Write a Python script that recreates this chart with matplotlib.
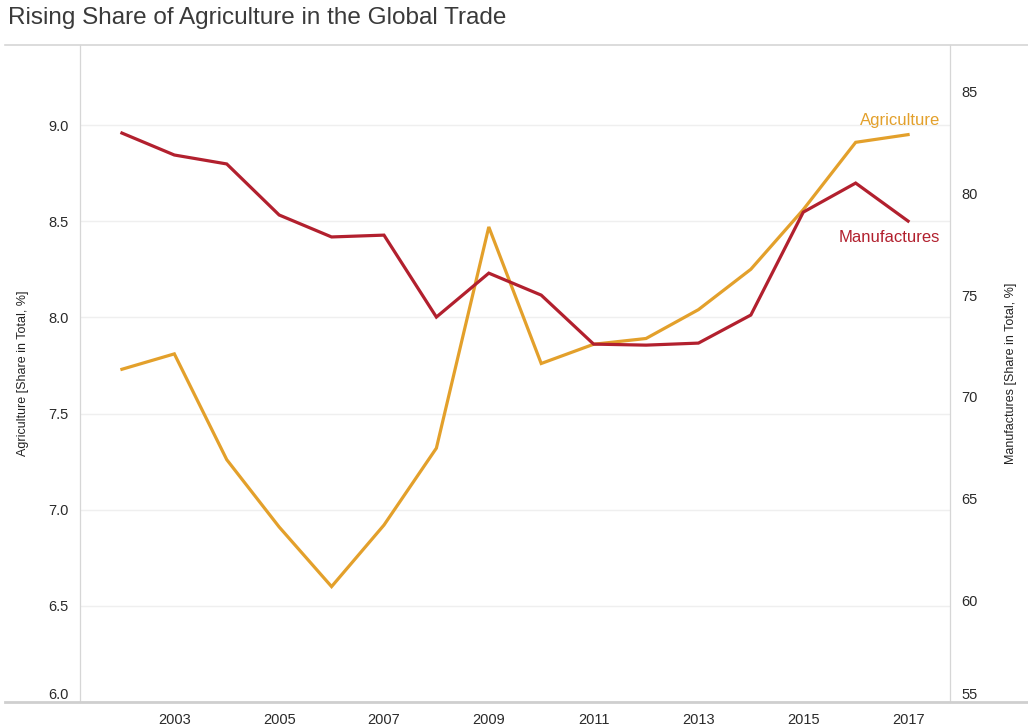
import matplotlib
matplotlib.use("Agg")
import matplotlib.pyplot as plt
from matplotlib.lines import Line2D

# données
annees = list(range(2002, 2018))
agriculture = [7.73, 7.81, 7.26, 6.91, 6.60, 6.92, 7.32, 8.47,
               7.76, 7.86, 7.89, 8.04, 8.25, 8.56, 8.91, 8.95]
manufactures = [82.98, 81.90, 81.46, 78.95, 77.87, 77.96, 73.93, 76.09,
                75.01, 72.60, 72.55, 72.65, 74.03, 79.09, 80.52, 78.65]
ticks_x = [2003, 2005, 2007, 2009, 2011, 2013, 2015, 2017]
ticks_g = [6.0, 6.5, 7.0, 7.5, 8.0, 8.5, 9.0]
ticks_d = [55, 60, 65, 70, 75, 80, 85]

ORANGE, ROUGE = "#e3a02b", "#b2202e"
ENCRE, GRILLE, CADRE = "#2a2a2a", "#efefef", "#d6d6d6"

plt.rcParams.update({
    "font.family": "sans-serif",
    "font.sans-serif": ["Liberation Sans", "DejaVu Sans"],
})

fig = plt.figure(figsize=(10.28, 7.28), dpi=100)
ax = fig.add_axes([80 / 1028, 1 - 702 / 728, 870 / 1028, 657 / 728])
ax2 = ax.twinx()

ax.plot(annees, agriculture, color=ORANGE, lw=2.3, solid_joinstyle="miter")
ax2.plot(annees, manufactures, color=ROUGE, lw=2.3, solid_joinstyle="miter")

ax.set_xlim(2001.2, 2017.8)
ax.set_ylim(6.0, 9.416)
ax2.set_ylim(55, 87.31)

ax.set_xticks(ticks_x)
ax.set_xticklabels([str(t) for t in ticks_x], fontsize=10.5, color=ENCRE)
ax.set_yticks(ticks_g)
ax.set_yticklabels([f"{t:.1f}" for t in ticks_g], fontsize=10.5, color=ENCRE)
ax2.set_yticks(ticks_d)
ax2.set_yticklabels([str(t) for t in ticks_d], fontsize=10.5, color=ENCRE)
ax.tick_params(length=0, pad=8)
ax2.tick_params(length=0, pad=8)
ax.get_yticklabels()[0].set_va("bottom")
ax2.get_yticklabels()[0].set_va("bottom")

ax.grid(True, axis="y", color=GRILLE, lw=1)
ax.set_axisbelow(True)
for a in (ax, ax2):
    a.spines["top"].set_visible(False)
    a.spines["bottom"].set_visible(False)
    a.spines["left"].set_color(CADRE)
    a.spines["right"].set_color(CADRE)

ax.set_ylabel("Agriculture [Share in Total, %]", fontsize=9, color="#222222", labelpad=14)
ax2.set_ylabel("Manufactures [Share in Total, %]", fontsize=9, color="#222222",
               rotation=90, labelpad=20)

ax.annotate("Agriculture", (annees[-1], agriculture[-1]), xytext=(23, 10),
            textcoords="offset points", ha="right", va="center",
            fontsize=12, color=ORANGE)
ax2.annotate("Manufactures", (annees[-1], manufactures[-1]), xytext=(23, -12),
             textcoords="offset points", ha="right", va="center",
             fontsize=12, color=ROUGE)

# filets horizontaux pleine largeur (style Tableau)
fig.add_artist(Line2D([0.005, 1], [1 - 45 / 728] * 2, color=CADRE, lw=1.2,
                      transform=fig.transFigure))
fig.add_artist(Line2D([0.005, 1], [1 - 702 / 728] * 2, color="#cfcfcf", lw=2,
                      transform=fig.transFigure))

fig.text(8 / 1028, 1 - 18 / 728, "Rising Share of Agriculture in the Global Trade",
         fontsize=17.5, color="#3a3a3a", va="center", ha="left")

fig.savefig("out.png", dpi=100)
